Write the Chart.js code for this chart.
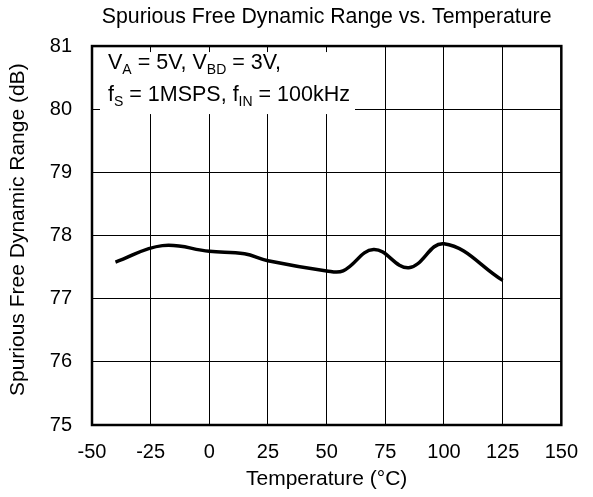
<!DOCTYPE html>
<html>
<head>
<meta charset="utf-8">
<script src="https://cdn.jsdelivr.net/npm/chart.js@4.4.1/dist/chart.umd.min.js"></script>
<style>
  html, body { margin: 0; padding: 0; background: #fff; }
  #wrap { width: 593px; height: 497px; }
</style>
</head>
<body>
<div id="wrap"><canvas id="sfdrChart" width="593" height="497"></canvas></div>
<script>
// Datos
const temperatures = [-40, -20, 0, 15, 25, 50, 57, 70, 85, 100, 125];
const sfdrValues = [77.58, 77.84, 77.75, 77.71, 77.60, 77.44, 77.44, 77.78, 77.49, 77.87, 77.29];
const xTicks = [-50, -25, 0, 25, 50, 75, 100, 125, 150];
const yTicks = [75, 76, 77, 78, 79, 80, 81];

const FONT = "'Liberation Sans', Arial, sans-serif";

// Marco del area de la grafica + cuadro de condiciones
const framePlugin = {
    id: 'frame',
    beforeDatasetsDraw(chart) {
        const { ctx, chartArea } = chart;
        ctx.save();
        // cuadro blanco que tapa la rejilla
        ctx.fillStyle = '#fff';
        ctx.fillRect(chartArea.left + 8, chartArea.top + 6, 255, 62);

        ctx.fillStyle = '#000';
        ctx.textBaseline = 'alphabetic';
        const drawRuns = (runs, x, y) => {
            for (const r of runs) {
                ctx.font = (r.sub ? '14px ' : '21.5px ') + FONT;
                ctx.fillText(r.t, x, y + (r.sub ? 5 : 0));
                x += ctx.measureText(r.t).width;
            }
        };
        const x0 = chartArea.left + 16;
        drawRuns([
            { t: 'V' }, { t: 'A', sub: true }, { t: ' = 5V, V' },
            { t: 'BD', sub: true }, { t: ' = 3V,' }
        ], x0, chartArea.top + 23);
        drawRuns([
            { t: 'f' }, { t: 'S', sub: true }, { t: ' = 1MSPS, f' },
            { t: 'IN', sub: true }, { t: ' = 100kHz' }
        ], x0, chartArea.top + 55);
        ctx.restore();
    },
    afterDraw(chart) {
        const { ctx, chartArea } = chart;
        ctx.save();
        ctx.strokeStyle = '#000';
        ctx.lineWidth = 2.5;
        ctx.strokeRect(chartArea.left, chartArea.top,
            chartArea.right - chartArea.left, chartArea.bottom - chartArea.top);
        ctx.restore();
    }
};

const ctx = document.getElementById('sfdrChart').getContext('2d');
new Chart(ctx, {
    type: 'line',
    data: {
        datasets: [{
            data: temperatures.map((t, i) => ({ x: t, y: sfdrValues[i] })),
            borderColor: '#000',
            borderWidth: 3.5,
            pointRadius: 0,
            tension: 0.4,
            fill: false
        }]
    },
    options: {
        responsive: false,
        animation: false,
        layout: { padding: { left: 0, right: 29, top: 0, bottom: 0 } },
        plugins: {
            legend: { display: false },
            tooltip: { enabled: false },
            title: {
                display: true,
                fullSize: false,
                text: 'Spurious Free Dynamic Range vs. Temperature',
                color: '#000',
                font: { family: FONT, size: 21.3, weight: 'normal' },
                padding: { top: 4, bottom: 16.5 }
            }
        },
        scales: {
            x: {
                type: 'linear',
                min: -50,
                max: 150,
                afterBuildTicks: (axis) => { axis.ticks = xTicks.map(v => ({ value: v })); },
                afterFit: (axis) => { axis.height = 72; },
                grid: { color: '#000', lineWidth: 1, drawTicks: false },
                border: { display: false },
                ticks: {
                    color: '#000',
                    padding: 15,
                    maxRotation: 0,
                    font: { family: FONT, size: 20 }
                },
                title: {
                    display: true,
                    text: 'Temperature (°C)',
                    color: '#000',
                    font: { family: FONT, size: 21 },
                    padding: { top: 0, bottom: 5 }
                }
            },
            y: {
                min: 75,
                max: 81,
                afterBuildTicks: (axis) => { axis.ticks = yTicks.map(v => ({ value: v })); },
                afterFit: (axis) => { axis.width = 92; },
                grid: { color: '#000', lineWidth: 1, drawTicks: false },
                border: { display: false },
                ticks: {
                    color: '#000',
                    padding: 20,
                    font: { family: FONT, size: 20 }
                },
                title: {
                    display: true,
                    text: '  Spurious Free Dynamic Range (dB)',
                    color: '#000',
                    font: { family: FONT, size: 21 },
                    padding: { top: 6, bottom: 0 }
                }
            }
        }
    },
    plugins: [framePlugin]
});
</script>
</body>
</html>
